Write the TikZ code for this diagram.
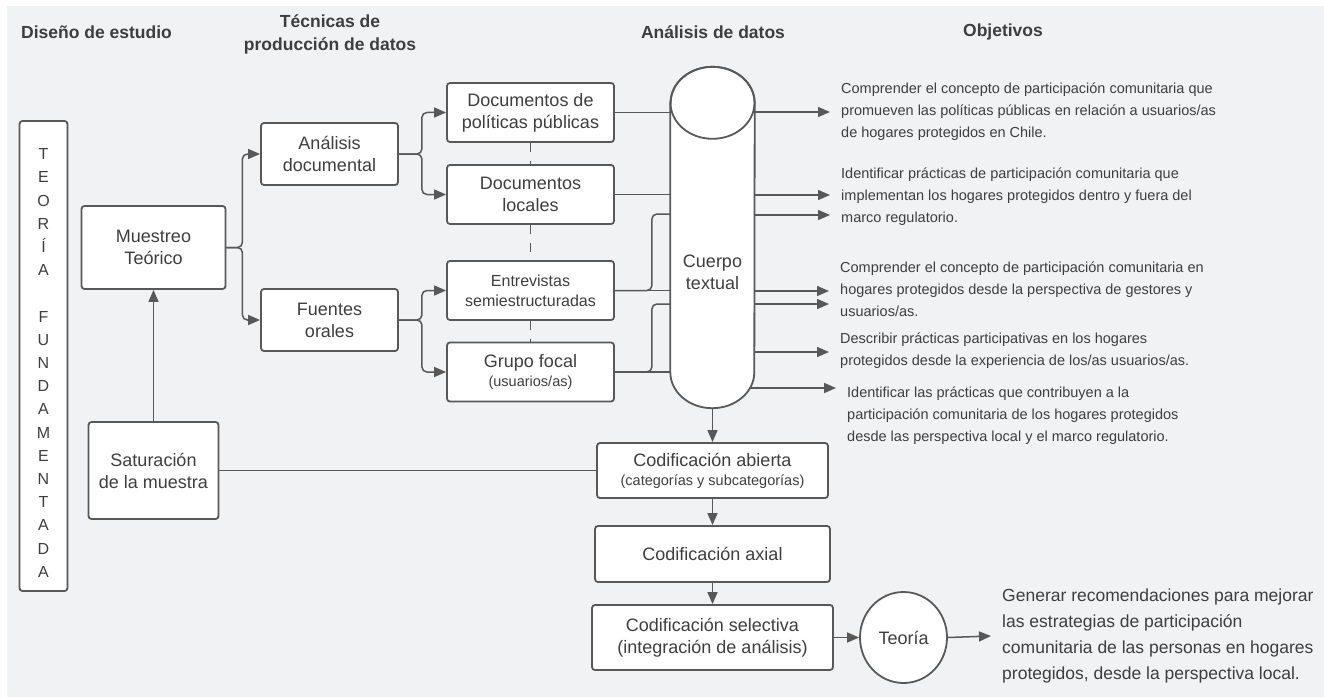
\documentclass[tikz,border=0pt]{standalone}
\usepackage{fontspec}
\setmainfont{Liberation Sans}
\usepackage{tikz}
\usetikzlibrary{arrows.meta,shapes.geometric}
\definecolor{fondo}{RGB}{241,242,244}
\definecolor{borde}{RGB}{88,88,88}
\definecolor{tinta}{RGB}{62,62,62}
\tikzstyle{caja} = [draw=borde, fill=white, line width=1.8pt, rounded corners=3pt, align=center, text=tinta, font={\fontsize{18}{22}\selectfont}]
\tikzstyle{titulo} = [text=tinta, align=center, font={\fontsize{17.5}{23}\selectfont\bfseries}]
\tikzstyle{objetivo} = [anchor=west, align=left, text=tinta, inner xsep=11pt, inner ysep=0pt, font={\fontsize{14.5}{22}\selectfont}]
\tikzstyle{linea} = [draw=borde, line width=1.5pt]
\tikzstyle{flecha} = [linea, ->]
\newcommand{\textochico}{\fontsize{14.5}{18}\selectfont}

\begin{document}
\begin{tikzpicture}[x=1pt, y=-1pt, >={Triangle[length=12pt,width=10pt]}]
  \useasboundingbox (0,0) rectangle (1324,698);
  \fill[fondo] (7,6) rectangle (1324,697);
  % encabezados
  \node[titulo](t1) at (96.5,32){Diseño de estudio};
  \node[titulo](t2) at (330,34){Técnicas de\\producción de datos};
  \node[titulo](t3) at (713,32){Análisis de datos};
  \node[titulo](t4) at (1003,32){Objetivos};
  % diseño de estudio
  \node[caja, minimum width=48pt, minimum height=470pt](teoria) at (43.5,356){};
  \node[text=tinta, align=center, font={\fontsize{16}{23.2}\selectfont}](teoriatxt) at (43.5,363)
    {T\\E\\O\\R\\Í\\A\\[23.2pt]F\\U\\N\\D\\A\\M\\E\\N\\T\\A\\D\\A};
  \node[caja, minimum width=144pt, minimum height=83pt](muestreo) at (153.5,247.5){Muestreo\\Teórico};
  \node[caja, minimum width=130pt, minimum height=97pt](saturacion) at (153.5,470.5){Saturación\\de la muestra};
  % técnicas
  \node[caja, minimum width=137pt, minimum height=62pt](analisisdoc) at (329.5,154){Análisis\\documental};
  \node[caja, minimum width=137pt, minimum height=62pt](fuentes) at (329.5,320){Fuentes\\orales};
  \node[caja, minimum width=167pt, minimum height=59pt](docpol) at (530.5,112.5){Documentos de\\políticas públicas};
  \node[caja, minimum width=167pt, minimum height=59pt](docloc) at (530.5,194.5){Documentos\\locales};
  \node[caja, minimum width=167pt, minimum height=59pt, font={\fontsize{16}{20}\selectfont}](entrev) at (530.5,290.5){Entrevistas\\semiestructuradas};
  \node[caja, minimum width=167pt, minimum height=59pt](grupo) at (530.5,372){Grupo focal\\[-3pt]{\textochico (usuarios/as)}};
  % análisis
  \node[minimum width=84pt, minimum height=341pt](cuerpo) at (712.5,237.5){};
  \node[caja, minimum width=231pt, minimum height=55pt](abierta) at (712.5,470.5){Codificación abierta\\[-3pt]{\textochico (categorías y subcategorías)}};
  \node[caja, minimum width=235pt, minimum height=56pt](axial) at (712.5,554){Codificación axial};
  \node[caja, minimum width=241pt, minimum height=65pt](selectiva) at (712.5,637.5){Codificación selectiva\\(integración de análisis)};
  \node[caja, ellipse, minimum width=87pt, minimum height=91pt](teoriac) at (903.5,637.5){Teoría};
  % objetivos
  \node[objetivo](obj1) at (830,112){Comprender el concepto de participación comunitaria que\\promueven las políticas públicas en relación a usuarios/as\\de hogares protegidos en Chile.};
  \node[objetivo](obj2) at (830,197){Identificar prácticas de participación comunitaria que\\implementan los hogares protegidos dentro y fuera del\\marco regulatorio.};
  \node[objetivo](obj3) at (829,289){Comprender el concepto de participación comunitaria en\\hogares protegidos desde la perspectiva de gestores y\\usuarios/as.};
  \node[objetivo](obj4) at (829,351){Describir prácticas participativas en los hogares\\protegidos desde la experiencia de los/as usuarios/as.};
  \node[objetivo](obj5) at (836,416){Identificar las prácticas que contribuyen a la\\participación comunitaria de los hogares protegidos\\desde las perspectiva local y el marco regulatorio.};
  \node[objetivo, font={\fontsize{17.5}{26}\selectfont}](generar) at (991,636){Generar recomendaciones para mejorar\\las estrategias de participación\\comunitaria de las personas en hogares\\protegidos, desde la perspectiva local.};
  % conectores
  \draw[flecha, rounded corners=5pt] (muestreo.east) -- ++(16,0) |- (analisisdoc.west);
  \draw[flecha, rounded corners=5pt] (muestreo.east) -- ++(16,0) |- (fuentes.west);
  \draw[flecha, rounded corners=5pt] (analisisdoc.east) -- ++(23,0) |- (docpol.west);
  \draw[flecha, rounded corners=5pt] (analisisdoc.east) -- ++(23,0) |- (docloc.west);
  \draw[flecha, rounded corners=5pt] (fuentes.east) -- ++(23,0) |- (entrev.west);
  \draw[flecha, rounded corners=5pt] (fuentes.east) -- ++(23,0) |- (grupo.west);
  \draw[linea, dash pattern=on 9pt off 9pt] (docpol.south) -- (docloc.north);
  \draw[linea, dash pattern=on 9pt off 9pt] (docloc.south) -- (entrev.north);
  \draw[linea, dash pattern=on 9pt off 9pt] (entrev.south) -- (grupo.north);
  \draw[flecha] (saturacion.north) -- (muestreo.south);
  \draw[linea] (saturacion.east) -- (abierta.west);
  \draw[linea] (docpol.east) -- (cuerpo.center |- docpol.east);
  \draw[linea] (docloc.east) -- (cuerpo.center |- docloc.east);
  \draw[linea] (entrev.east) -- (cuerpo.center |- entrev.east);
  \draw[linea, rounded corners=5pt] (entrev.east) -- ++(37,0) |- (cuerpo.center |- 0,214);
  \draw[linea] (grupo.east) -- (cuerpo.center |- grupo.east);
  \draw[linea, rounded corners=5pt] (grupo.east) -- ++(37,0) |- (cuerpo.center |- 0,304);
  \draw[flecha] (cuerpo.center |- obj1.west) -- (obj1.west);
  \draw[flecha] (cuerpo.center |- 0,195) -- (obj2.west |- 0,195);
  \draw[flecha] (cuerpo.center |- 0,215) -- (obj2.west |- 0,215);
  \draw[flecha] (cuerpo.center |- 0,291) -- (obj3.west |- 0,291);
  \draw[flecha] (cuerpo.center |- 0,304) -- (obj3.west |- 0,304);
  \draw[flecha] (cuerpo.center |- 0,352) -- (obj4.west |- 0,352);
  \draw[flecha] (cuerpo.center |- 0,388) -- (obj5.west |- 0,388);
  \draw[flecha] (cuerpo.south) -- (abierta.north);
  \draw[flecha] (abierta.south) -- (axial.north);
  \draw[flecha] (axial.south) -- (selectiva.north);
  \draw[flecha] (selectiva.east) -- (teoriac.west);
  \draw[flecha] (teoriac.east) -- (generar.west);
  % cilindro
  \draw[draw=borde, fill=white, line width=1.8pt] ([yshift=-36pt]cuerpo.north west) -- ([yshift=36pt]cuerpo.south west)
    arc[start angle=180, end angle=360, x radius=42pt, y radius=36pt] -- ([yshift=-36pt]cuerpo.north east)
    arc[start angle=0, end angle=180, x radius=42pt, y radius=36pt] -- cycle;
  \draw[draw=borde, line width=1.8pt] ([yshift=-36pt]cuerpo.north) ellipse[x radius=42pt, y radius=36pt];
  \node[text=tinta, align=center, font={\fontsize{18}{22}\selectfont}](cuerpotxt) at (712.5,272){Cuerpo\\textual};
\end{tikzpicture}
\end{document}
